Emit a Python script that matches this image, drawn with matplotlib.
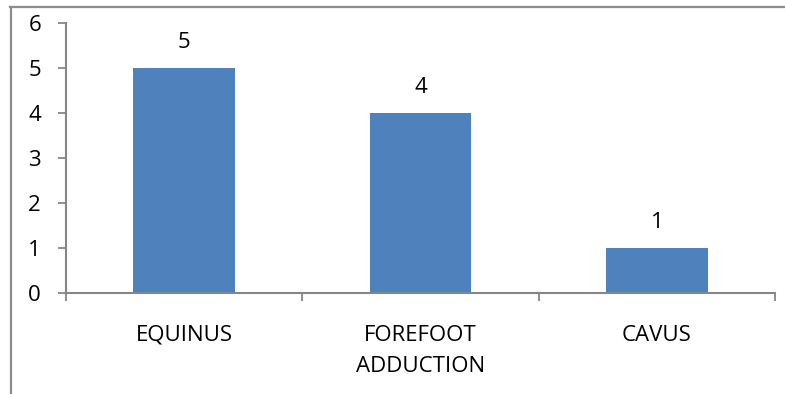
import matplotlib.pyplot as plt
from matplotlib.lines import Line2D

# Foot deformity counts
categories = ['EQUINUS', 'FOREFOOT\nADDUCTION', 'CAVUS']
counts = [5, 4, 1]

plt.rcParams['font.family'] = ['Open Sans', 'DejaVu Sans']

fig = plt.figure(figsize=(7.85, 3.94), dpi=100)
ax = fig.add_axes([66 / 785, (394 - 293) / 394, (775 - 66) / 785, (293 - 23) / 394])

x = range(len(categories))
bars = ax.bar(x, counts, width=0.43, color='#4F81BD')

# value labels above each bar
for xi, v in zip(x, counts):
    ax.annotate(str(v), (xi, v), xytext=(0, 11), textcoords='offset points',
                ha='center', va='bottom', fontsize=16)

ax.set_xlim(-0.5, len(categories) - 0.5)
ax.set_ylim(0, 6)
ax.set_yticks(range(0, 7))

# category ticks sit on the boundaries, labels at the centres
ax.set_xticks([i - 0.5 for i in range(len(categories) + 1)])
ax.set_xticklabels([])
ax.set_xticks(list(x), minor=True)
ax.set_xticklabels(categories, minor=True, fontsize=16, linespacing=1.6)
ax.tick_params(axis='x', which='minor', length=0, pad=23)
ax.tick_params(axis='x', which='major', length=6, width=1.3, color='#868686', direction='out')
ax.tick_params(axis='y', length=6, width=1.3, color='#868686', pad=12, labelsize=16)

for side in ['top', 'right']:
    ax.spines[side].set_visible(False)
for side in ['left', 'bottom']:
    ax.spines[side].set_color('#868686')
    ax.spines[side].set_linewidth(1.5)

# outer chart frame (top and left edges)
fig.add_artist(Line2D([10 / 785, 1], [1 - 6.5 / 394] * 2, transform=fig.transFigure,
                      color='#8c8c8c', linewidth=1.6))
fig.add_artist(Line2D([10.5 / 785] * 2, [0, 1 - 6.5 / 394], transform=fig.transFigure,
                      color='#8c8c8c', linewidth=1.6))

fig.savefig('out.png', dpi=100)
